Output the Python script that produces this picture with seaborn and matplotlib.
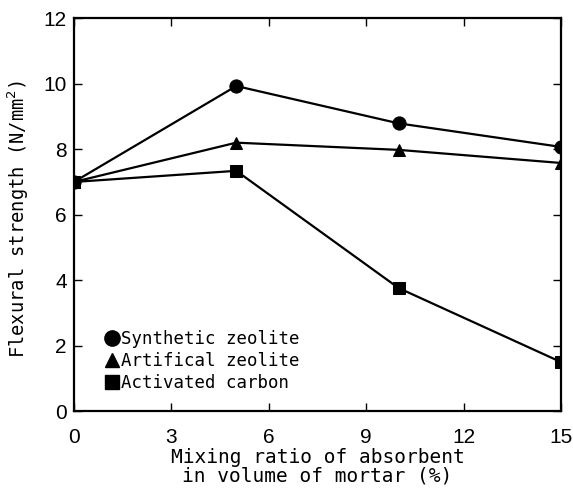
import matplotlib
matplotlib.use("Agg")
import matplotlib.pyplot as plt
import seaborn as sns
import pandas as pd
from matplotlib.lines import Line2D

mix_ratio = [0, 5, 10, 15]
synthetic_zeolite = [7.0, 9.93, 8.79, 8.07]
artificial_zeolite = [7.0, 8.2, 7.98, 7.58]
activated_carbon = [7.0, 7.34, 3.76, 1.5]
series_names = ["Synthetic zeolite", "Artifical zeolite", "Activated carbon"]
x_ticks = [0, 3, 6, 9, 12, 15]
y_ticks = [0, 2, 4, 6, 8, 10, 12]

df = pd.DataFrame({
    "x": mix_ratio * 3,
    "y": synthetic_zeolite + artificial_zeolite + activated_carbon,
    "series": sum([[n] * len(mix_ratio) for n in series_names], []),
})

sns.set_style("ticks", {"axes.edgecolor": "black", "text.color": "black",
                        "axes.labelcolor": "black", "xtick.color": "black",
                        "ytick.color": "black"})
plt.rcParams['font.family'] = ['DejaVu Sans Mono', 'DejaVu Sans']

fig = plt.figure(figsize=(5.73, 4.93), dpi=100)
ax = fig.add_axes([0.129, 0.166, 0.850, 0.797])

markers = {"Synthetic zeolite": "o", "Artifical zeolite": "^", "Activated carbon": "s"}
sizes_ms = {"Synthetic zeolite": 9.5, "Artifical zeolite": 8.5, "Activated carbon": 9}
for name in series_names:
    sub = df[df["series"] == name]
    sns.lineplot(data=sub, x="x", y="y", ax=ax, color="black", linewidth=1.6,
                 marker=markers[name], markersize=sizes_ms[name],
                 markeredgecolor="black", markerfacecolor="black", legend=False)

ax.set_xlim(0, 15)
ax.set_ylim(0, 12)
ax.set_xticks(x_ticks)
ax.set_yticks(y_ticks)
tick_font = dict(family=['Liberation Sans', 'DejaVu Sans'], size=15)
ax.set_xticklabels([str(t) for t in x_ticks], fontdict=tick_font)
ax.set_yticklabels([str(t) for t in y_ticks], fontdict=tick_font)
ax.tick_params(direction="in", length=6, width=1, top=True, right=True,
               colors="black")
ax.tick_params(axis="x", pad=12)
ax.tick_params(axis="y", pad=5)
for s in ax.spines.values():
    s.set_linewidth(1.6)
    s.set_color("black")
    s.set_visible(True)

ax.set_xlabel("Mixing ratio of absorbent\nin volume of mortar (%)", fontsize=14,
              linespacing=0.95, labelpad=1, color="black")
ax.set_ylabel("Flexural strength (N/mm$^2$)", fontsize=13.5, color="black")
ax.yaxis.set_label_coords(-0.088, 0.49)

handles = [Line2D([], [], linestyle="none", marker=markers[n], color="black",
                  markersize=sizes_ms[n] + 1.5) for n in series_names]
leg = ax.legend(handles, series_names, loc="lower left", bbox_to_anchor=(0.05, 0.03),
                frameon=False, fontsize=12.5, handlelength=0.8, handletextpad=0.1,
                labelspacing=0.25, borderaxespad=0)
for t in leg.get_texts():
    t.set_color("black")

fig.savefig("out.png", dpi=100)
